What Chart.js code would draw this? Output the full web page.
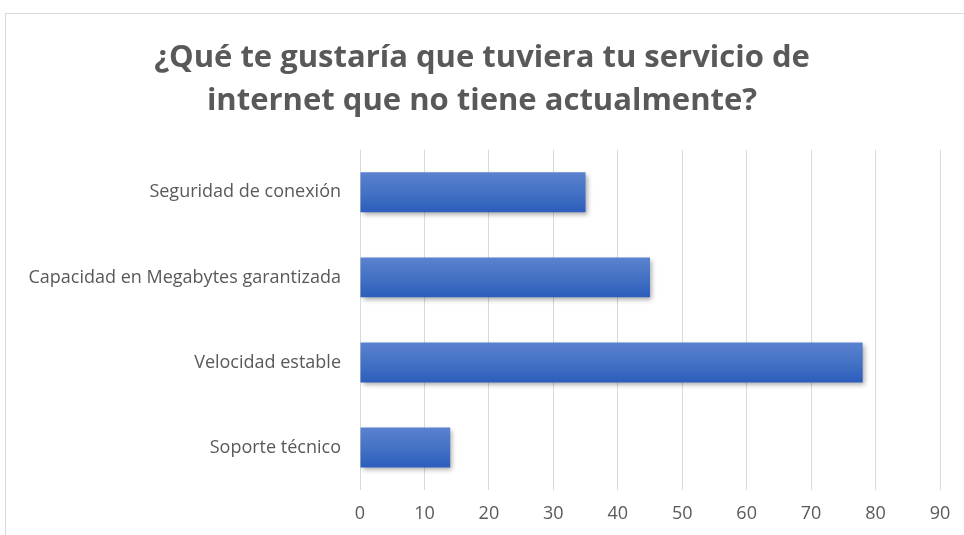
<!DOCTYPE html>
<html>
<head>
<meta charset="utf-8">
<script src="https://cdn.jsdelivr.net/npm/chart.js@4"></script>
<style>
  html, body { margin: 0; padding: 0; background: #fff; overflow: hidden; }
  #frame { position: absolute; left: 5px; top: 13px; width: 1000px; height: 600px; border: 1px solid #d9d9d9; }
  #wrap { position: absolute; left: 0; top: 0; width: 964px; height: 535px; }
</style>
</head>
<body>
<div id="frame"></div>
<div id="wrap"><canvas id="bar-chart"></canvas></div>
<script>
// horizontal bar chart

var ctx = document.getElementById('bar-chart');

var opciones = ['Seguridad de conexión', 'Capacidad en Megabytes garantizada', 'Velocidad estable', 'Soporte técnico'];
var respuestas = [35, 45, 78, 14];
var titulo = ['¿Qué te gustaría que tuviera tu servicio de', 'internet que no tiene actualmente?'];

var barPct = 0.47;

// vertical gradient per bar, lighter on top
function barGradient(context) {
    var chart = context.chart;
    var area = chart.chartArea;
    if (!area || !chart.scales.y) return '#4472c4';
    var band = (area.bottom - area.top) / opciones.length;
    var yc = chart.scales.y.getPixelForValue(context.dataIndex);
    var half = band * barPct / 2;
    var g = chart.ctx.createLinearGradient(0, yc - half, 0, yc + half);
    g.addColorStop(0, '#5b82cf');
    g.addColorStop(0.5, '#4472c4');
    g.addColorStop(1, '#2d5dbd');
    return g;
}

// soft shadow under the bars
var barShadow = {
    id: 'barShadow',
    beforeDatasetsDraw: function (chart) {
        var c = chart.ctx;
        c.save();
        c.shadowColor = 'rgba(0, 0, 0, 0.35)';
        c.shadowBlur = 5;
        c.shadowOffsetX = 2;
        c.shadowOffsetY = 3;
    },
    afterDatasetsDraw: function (chart) {
        chart.ctx.restore();
    }
};

var myChart = new Chart(ctx, {
    type: 'bar',
    plugins: [barShadow],
    data: {
        labels: opciones,
        datasets: [{
            label: 'Respuestas',
            data: respuestas,
            backgroundColor: barGradient,
            borderWidth: 0,
            barPercentage: barPct,
            categoryPercentage: 1
        }]
    },
    options: {
        indexAxis: 'y',
        responsive: true,
        maintainAspectRatio: false,
        animation: false,
        layout: {
            padding: { left: 24, right: 24, top: 0, bottom: 0 }
        },
        plugins: {
            legend: { display: false },
            tooltip: { enabled: false },
            title: {
                display: true,
                text: titulo,
                color: '#595959',
                font: { family: 'Open Sans', size: 31, weight: 'bold', lineHeight: 1.4 },
                padding: { top: 36, bottom: 27 }
            }
        },
        scales: {
            x: {
                min: 0,
                max: 90,
                ticks: {
                    stepSize: 10,
                    color: '#595959',
                    padding: 13,
                    font: { family: 'Open Sans', size: 18 }
                },
                grid: { color: '#d9d9d9', lineWidth: 1, drawTicks: false },
                border: { display: false },
                afterFit: function (scale) { scale.height = 45; }
            },
            y: {
                ticks: {
                    color: '#595959',
                    padding: 11,
                    font: { family: 'Open Sans', size: 18 }
                },
                grid: { display: false },
                border: { display: false },
                afterFit: function (scale) { scale.width = 336; }
            }
        }
    }
});
</script>
</body>
</html>
